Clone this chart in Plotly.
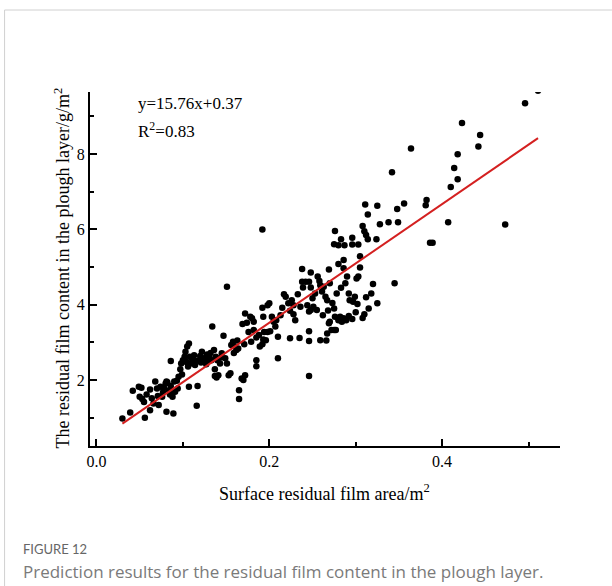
import plotly.graph_objects as go

# ---- data ----
x_area = [
    0.030, 0.039, 0.042, 0.049, 0.052, 0.050, 0.053, 0.055, 0.056, 0.062,
    0.062, 0.068, 0.070, 0.071, 0.072, 0.066, 0.074, 0.076, 0.078, 0.080,
    0.081, 0.082, 0.081, 0.084, 0.086, 0.086, 0.089, 0.088, 0.090, 0.091,
    0.093, 0.095, 0.097, 0.098, 0.100, 0.102, 0.103, 0.105, 0.107, 0.106,
    0.107, 0.109, 0.110, 0.112, 0.114, 0.116, 0.117, 0.120, 0.122, 0.124,
    0.126, 0.127, 0.129, 0.131, 0.133, 0.134, 0.136, 0.137, 0.137, 0.139,
    0.141, 0.140, 0.143, 0.145, 0.147, 0.149, 0.151, 0.151, 0.153, 0.155,
    0.156, 0.158, 0.160, 0.162, 0.164, 0.165, 0.165, 0.168, 0.170, 0.172,
    0.169, 0.172, 0.174, 0.176, 0.178, 0.180, 0.182, 0.182, 0.185, 0.185,
    0.185, 0.189, 0.192, 0.193, 0.194, 0.196, 0.198, 0.192, 0.193, 0.198,
    0.200, 0.203, 0.205, 0.208, 0.210, 0.210, 0.217, 0.219, 0.222, 0.224,
    0.228, 0.230, 0.228, 0.224, 0.235, 0.238, 0.238, 0.239, 0.242, 0.246,
    0.248, 0.248, 0.250, 0.244, 0.246, 0.248, 0.251, 0.255, 0.246, 0.246,
    0.246, 0.258, 0.259, 0.261, 0.263, 0.265, 0.267, 0.269, 0.270, 0.259,
    0.266, 0.267, 0.269, 0.270, 0.272, 0.275, 0.277, 0.275, 0.276, 0.280,
    0.282, 0.284, 0.286, 0.289, 0.280, 0.286, 0.286, 0.288, 0.290, 0.292,
    0.293, 0.297, 0.299, 0.301, 0.303,
    0.058, 0.064, 0.077, 0.085, 0.094, 0.099, 0.104, 0.108, 0.113, 0.118,
    0.121, 0.128, 0.132, 0.138, 0.144, 0.159, 0.163, 0.171, 0.179, 0.188,
    0.201, 0.207, 0.213, 0.215, 0.226, 0.233, 0.236, 0.253, 0.256, 0.262,
    0.268, 0.273, 0.278, 0.283, 0.292, 0.296, 0.300, 0.302,
    0.305, 0.305, 0.345, 0.325, 0.310, 0.315, 0.318, 0.312, 0.308, 0.320,
    0.276, 0.283, 0.275, 0.280, 0.287, 0.296, 0.296, 0.303, 0.308, 0.310,
    0.312, 0.314, 0.324, 0.311, 0.314, 0.325, 0.328, 0.338, 0.349, 0.348,
    0.356, 0.342, 0.364, 0.381, 0.382, 0.386, 0.389, 0.407, 0.410, 0.418,
    0.414, 0.418, 0.423, 0.442, 0.444, 0.473, 0.496, 0.511, 0.192,
]
y_content = [
    0.98, 1.14, 1.72, 1.82, 1.80, 1.56, 1.50, 1.42, 1.00, 1.75,
    1.20, 1.96, 1.78, 1.58, 1.34, 1.38, 1.82, 1.56, 1.80, 1.91,
    1.96, 1.94, 1.16, 1.73, 1.84, 2.51, 1.11, 1.56, 1.96, 1.69,
    1.98, 2.09, 2.29, 2.44, 2.53, 2.62, 2.75, 2.89, 2.97, 2.36,
    1.82, 2.44, 2.58, 2.53, 2.40, 1.32, 1.84, 2.64, 2.75, 2.58,
    2.53, 2.42, 2.53, 2.58, 2.53, 3.42, 2.80, 2.29, 2.11, 2.07,
    2.13, 2.53, 2.44, 2.71, 3.18, 2.58, 2.44, 4.48, 2.13, 2.18,
    2.93, 3.02, 2.89, 2.80, 2.84, 1.73, 1.50, 2.04, 2.00, 2.13,
    3.49, 3.77, 3.52, 3.28, 3.68, 3.64, 3.55, 3.33, 3.13, 2.53,
    2.37, 2.89, 2.95, 3.08, 3.28, 3.06, 3.28, 3.92, 3.68, 3.99,
    4.04, 3.68, 3.55, 3.59, 3.15, 2.58, 4.28, 4.21, 4.04, 3.84,
    3.75, 3.59, 3.99, 3.11, 3.12, 4.95, 4.61, 4.46, 4.61, 4.61,
    4.86, 4.46, 4.17, 3.99, 3.82, 3.86, 3.95, 3.86, 3.30, 3.04,
    2.11, 4.63, 4.52, 4.35, 4.48, 4.21, 4.12, 4.94, 4.57, 3.06,
    3.05, 3.24, 3.51, 3.55, 3.33, 3.33, 3.33, 3.90, 3.68, 3.59,
    3.68, 3.55, 3.64, 3.59, 5.08, 5.19, 4.97, 4.57, 4.75, 4.30,
    4.12, 4.08, 4.21, 4.70, 4.75,
    1.62, 1.52, 1.68, 1.62, 1.78, 2.15, 2.48, 2.62, 2.66, 2.52,
    2.47, 2.68, 2.72, 2.62, 2.60, 2.72, 3.05, 2.95, 3.02, 3.20,
    3.30, 3.42, 3.72, 3.92, 4.12, 4.28, 3.95, 4.30, 4.75, 3.72,
    3.85, 4.05, 4.30, 4.45, 3.70, 3.62, 3.80, 4.02,
    5.29, 4.99, 4.57, 4.04, 3.75, 3.90, 4.30, 4.20, 3.65, 4.55,
    5.96, 5.74, 5.61, 5.58, 5.58, 5.78, 5.60, 5.60, 6.09, 5.95,
    5.85, 5.74, 5.74, 6.66, 6.40, 6.63, 6.14, 6.19, 6.19, 6.54,
    6.69, 7.52, 8.15, 6.64, 6.78, 5.65, 5.65, 6.19, 7.13, 7.33,
    7.63, 8.00, 8.83, 8.20, 8.51, 6.13, 9.35, 9.68, 6.00,
]

fit_slope = 15.76
fit_intercept = 0.37
fit_x = [0.030, 0.511]
fit_y = [fit_slope * v + fit_intercept for v in fit_x]

x_ticks = [0.0, 0.2, 0.4]
x_tick_labels = ["0.0", "0.2", "0.4"]
y_ticks = [2, 4, 6, 8]
y_tick_labels = ["2", "4", "6", "8"]

eq_text = "y=15.76x+0.37"
r2_text = "R<sup>2</sup>=0.83"
x_title = "Surface residual film area/m<sup>2</sup>"
y_title = "The residual film content in the plough layer/g/m<sup>2</sup>"
fig_label = "FIGURE 12"
caption = "Prediction results for the residual film content in the plough layer."

# ---- figure ----
W, H = 612, 586
L, R, T, B = 89.5, 52, 92, 140
pw, ph = W - L - R, H - T - B
x_range = [-0.0075, -0.0075 + pw / 865.0]


def px(xp):
    return (xp - L) / pw


def py(yp):
    return (H - B - yp) / ph


serif = "Liberation Serif, Times New Roman, serif"

fig = go.Figure()
fig.add_trace(go.Scatter(
    x=x_area, y=y_content, mode="markers",
    marker=dict(color="black", size=6.5, line=dict(width=0)),
    showlegend=False, hoverinfo="skip",
))
fig.add_trace(go.Scatter(
    x=fit_x, y=fit_y, mode="lines",
    line=dict(color="#d42020", width=2),
    showlegend=False, hoverinfo="skip",
))

axis_common = dict(
    showline=True, linecolor="black", linewidth=2,
    ticks="inside", ticklen=7, tickwidth=1.5, tickcolor="black",
    showgrid=False, zeroline=False, mirror=False,
    tickfont=dict(family=serif, size=16, color="black"),
)

fig.update_layout(
    width=W, height=H,
    margin=dict(l=L, r=R, t=T, b=B, pad=0),
    paper_bgcolor="white", plot_bgcolor="white",
    xaxis=dict(
        range=x_range, tickvals=x_ticks, ticktext=x_tick_labels,
        minor=dict(ticks="inside", ticklen=4, tickwidth=1.5, tickcolor="black",
                   tickvals=[0.1, 0.3, 0.5]),
        **axis_common,
    ),
    yaxis=dict(
        range=[0.25, 9.65], tickvals=y_ticks, ticktext=y_tick_labels,
        minor=dict(ticks="inside", ticklen=4, tickwidth=1.5, tickcolor="black",
                   tickvals=[1, 3, 5, 7, 9]),
        **axis_common,
    ),
    annotations=[
        dict(text=eq_text, x=px(136), y=py(103), xref="paper", yref="paper",
             xanchor="left", yanchor="middle", showarrow=False,
             font=dict(family=serif, size=17, color="black")),
        dict(text=r2_text, x=px(136), y=py(130), xref="paper", yref="paper",
             xanchor="left", yanchor="middle", showarrow=False,
             font=dict(family=serif, size=17, color="black")),
        dict(text=x_title, x=px(324), y=py(492), xref="paper", yref="paper",
             xanchor="center", yanchor="middle", showarrow=False,
             font=dict(family=serif, size=18, color="black")),
        dict(text=y_title, x=px(61), y=py(268), xref="paper", yref="paper",
             xanchor="center", yanchor="middle", showarrow=False, textangle=-90,
             font=dict(family=serif, size=18, color="black")),
        dict(text=fig_label, x=px(20), y=py(549), xref="paper", yref="paper",
             xanchor="left", yanchor="middle", showarrow=False,
             font=dict(family="Lato, sans-serif", size=13, color="#666666")),
        dict(text=caption, x=px(20), y=py(571), xref="paper", yref="paper",
             xanchor="left", yanchor="middle", showarrow=False,
             font=dict(family="Open Sans, sans-serif", size=17, color="#7a7a7a")),
    ],
    shapes=[
        dict(type="line", xref="paper", yref="paper",
             x0=px(4), x1=px(612), y0=py(10), y1=py(10),
             line=dict(color="#d0d0d0", width=1)),
        dict(type="line", xref="paper", yref="paper",
             x0=px(4), x1=px(4), y0=py(10), y1=py(586),
             line=dict(color="#d0d0d0", width=1)),
    ],
)

fig.write_html("out.html", config={"displayModeBar": False})
